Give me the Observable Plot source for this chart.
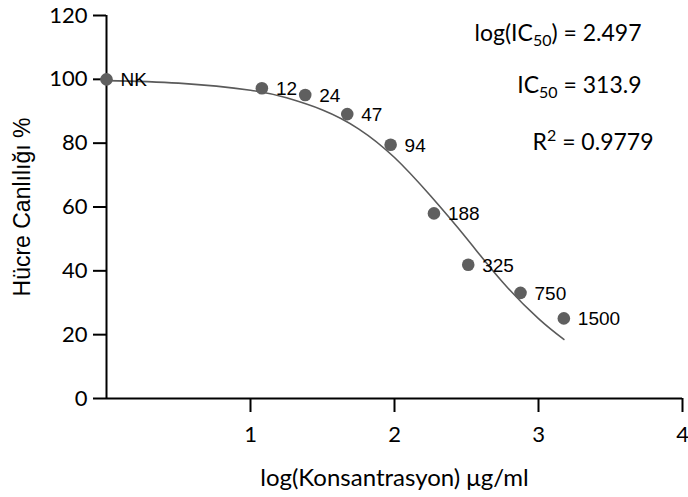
<!DOCTYPE html>
<html>
<head>
<meta charset="utf-8">
<script src="https://cdn.jsdelivr.net/npm/d3@7"></script>
<script src="https://cdn.jsdelivr.net/npm/@observablehq/plot@0.6"></script>
<style>
  html, body { margin: 0; padding: 0; background: #fff; }
  #chart svg { display: block; }
</style>
</head>
<body>
<div id="chart"></div>
<script>
// Measured points
const concLabels = ["NK", "12", "24", "47", "94", "188", "325", "750", "1500"];
const logConc = [0, 1.079, 1.380, 1.672, 1.973, 2.274, 2.512, 2.875, 3.176];
const viability = [100, 97.2, 95.1, 89.1, 79.5, 58.0, 41.9, 33.1, 25.1];

// Fitted curve
const fitX = [0, 0.5, 1.0, 1.25, 1.5, 1.75, 2.0, 2.25, 2.5, 2.75, 3.0, 3.176];
const fitY = [99.6, 98.8, 96.6, 94.2, 90.4, 84.5, 75.5, 63.5, 50.2, 36.5, 25.0, 18.5];

const xTicks = [1, 2, 3, 4];
const yTicks = [0, 20, 40, 60, 80, 100, 120];

const annotations = ["log(IC_{50}) = 2.497", "IC_{50} = 313.9", "R^{2} = 0.9779"];

const points = concLabels.map((label, i) => ({label, x: logConc[i], y: viability[i]}));
const fit = fitX.map((x, i) => ({x, y: fitY[i]}));

const tickFont = "Lato, 'Open Sans', sans-serif";
const labelFont = "'Liberation Sans', Arial, sans-serif";

const chart = Plot.plot({
  width: 688,
  height: 497,
  marginLeft: 106,
  marginRight: 6,
  marginTop: 15,
  marginBottom: 99,
  style: {background: "#fff", color: "#000"},
  x: {domain: [0, 4]},
  y: {domain: [0, 120]},
  marks: [
    Plot.axisX(xTicks, {
      tickSize: 14, tickPadding: 14, strokeWidth: 2, stroke: "#000", tickFormat: d => String(d),
      fontSize: 22, fontFamily: tickFont, fill: "#000", label: null
    }),
    Plot.axisY(yTicks, {
      tickSize: 13, tickPadding: 6, strokeWidth: 2, stroke: "#000", tickFormat: d => String(d),
      fontSize: 22, fontFamily: tickFont, fill: "#000", label: null
    }),
    Plot.ruleY([0], {stroke: "#000", strokeWidth: 2}),
    Plot.ruleX([0], {stroke: "#000", strokeWidth: 2}),
    Plot.line(fit, {x: "x", y: "y", curve: "natural", stroke: "#5a5a5a", strokeWidth: 1.6}),
    Plot.dot(points, {x: "x", y: "y", r: 6.3, fill: "#5f5f5f", stroke: "none"}),
    Plot.text(points, {x: "x", y: "y", text: "label", dx: 14, dy: 1, textAnchor: "start",
      fontSize: 19, fontFamily: labelFont, fill: "#000"}),
    Plot.text([annotations[0]], {text: d => d, frameAnchor: "top-right", dx: -41, dy: 18,
      textAnchor: "end", lineAnchor: "middle", fontSize: 23, fontFamily: tickFont, fill: "#000", className: "ann"}),
    Plot.text([annotations[1]], {text: d => d, frameAnchor: "top-right", dx: -41, dy: 70,
      textAnchor: "end", lineAnchor: "middle", fontSize: 23, fontFamily: tickFont, fill: "#000", className: "ann"}),
    Plot.text([annotations[2]], {text: d => d, frameAnchor: "top-right", dx: -29, dy: 127,
      textAnchor: "end", lineAnchor: "middle", fontSize: 23, fontFamily: tickFont, fill: "#000", className: "ann"}),
    Plot.text(["log(Konsantrasyon) μg/ml"], {text: d => d, frameAnchor: "bottom", dy: 80,
      lineAnchor: "middle", fontSize: 24, fontFamily: tickFont, fill: "#000"}),
    Plot.text(["Hücre Canlılığı %"], {text: d => d, frameAnchor: "left", dx: -84, rotate: -90,
      textAnchor: "middle", lineAnchor: "middle", fontSize: 23, fontFamily: labelFont, fill: "#000"})
  ]
});

// Rich text: subscripts / superscripts in annotations
d3.select(chart).selectAll("g.ann text").each(function() {
  const el = d3.select(this);
  const raw = el.text();
  el.text(null);
  const re = /(_\{[^}]*\}|\^\{[^}]*\})/;
  let pending = 0;
  raw.split(re).filter(s => s.length).forEach(part => {
    if (part.startsWith("_{")) {
      el.append("tspan").attr("font-size", "16px").attr("dy", 5 + pending).text(part.slice(2, -1));
      pending = -5;
    } else if (part.startsWith("^{")) {
      el.append("tspan").attr("font-size", "16px").attr("dy", -9 + pending).text(part.slice(2, -1));
      pending = 9;
    } else {
      const t = el.append("tspan").text(part);
      if (pending) t.attr("dy", pending);
      pending = 0;
    }
  });
});

document.getElementById("chart").appendChild(chart);
</script>
</body>
</html>
